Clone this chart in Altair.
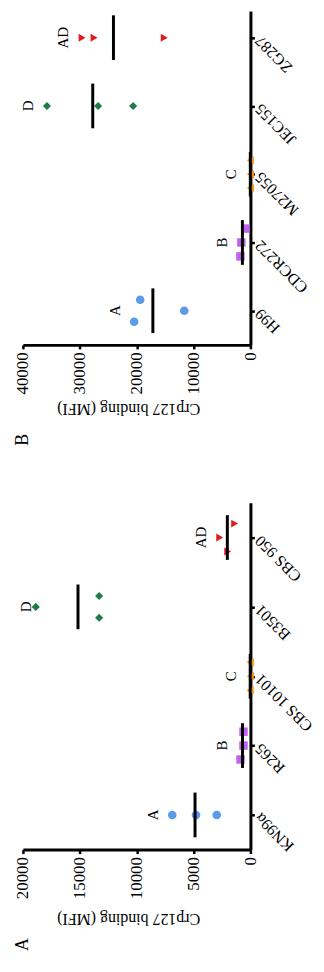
import json
import altair as alt
import pandas as pd

# ---------------- data ----------------
serotypes = ["A", "B", "C", "D", "AD"]

a_strains = ["KN99α", "R265", "CBS 10101", "B3501", "CBS 950"]
a_kn99 = [6870, 4780, 2960]
a_r265 = [610, 610, 870]
a_cbs10101 = [20, 10, 30]
a_b3501 = [18870, 13300, 13300]
a_cbs950 = [1390, 2700, 2000]

b_strains = ["H99", "CDCR272", "M27055", "JEC155", "ZG287"]
b_h99 = [19380, 11630, 20440]
b_cdcr272 = [880, 1590, 1760]
b_m27055 = [30, 10, 20]
b_jec155 = [35770, 26780, 20620]
b_zg287 = [29600, 27490, 15150]

a_ticks = [0, 5000, 10000, 15000, 20000]
b_ticks = [0, 10000, 20000, 30000, 40000]

value_title = "Crp127 binding (MFI)"

# ---------------- style ----------------
SERIF = "Liberation Serif"
colors = ["#5b9be9", "#c062ef", "#f28f1d", "#1f7b47", "#e11b1d"]
b_shapes = ["circle", "square", "triangle-left", "diamond", "triangle-right"]
a_shapes = ["circle", "circle", "triangle-left", "diamond", "triangle-right"]
b_sizes = [75, 64, 85, 50, 60]
a_sizes = [60, 30, 85, 45, 55]
W = 229


def spread(vals, px_per_unit, thr_px=10):
    """GraphPad-like scatter: overlapping points are spread across the band."""
    order = sorted(range(len(vals)), key=lambda i: vals[i])
    clusters, cur = [], [order[0]]
    for i in order[1:]:
        if (vals[i] - vals[cur[-1]]) * px_per_unit < thr_px:
            cur.append(i)
        else:
            clusters.append(cur)
            cur = [i]
    clusters.append(cur)
    out = [(0.0, 1)] * len(vals)
    for c in clusters:
        c = sorted(c)
        k = len(c)
        for j, i in enumerate(c):
            out[i] = ((k - 1) / 2 - j, k)
    return out


def panel(strains, groups, ticks, letter, height, dom, shapes, sizes, title_pad, letter_off):
    vmax = ticks[-1]
    px_per_unit = W / vmax
    step_px = height / (dom[1] - dom[0])
    rows = []
    for i, (s, vals) in enumerate(zip(strains, groups)):
        for v, (o, k) in zip(vals, spread(vals, px_per_unit)):
            gap = 22 if k == 2 else 14
            rows.append(dict(strain=s, ser=serotypes[i], idx=i, value=v,
                             jit=o * gap / step_px))
    df = pd.DataFrame(rows)

    xscale = alt.Scale(domain=[0, vmax], reverse=True, nice=False, zero=False)
    xaxis = alt.Axis(values=ticks, format="d", labelAngle=270, labelAlign="right",
                     labelBaseline="middle", labelFlush=False, labelOverlap=False,
                     labelFontSize=17,
                     grid=False, titleAngle=180, titleAlign="center",
                     titleBaseline="bottom", titleX=106, titlePadding=title_pad)

    def X(f):
        return alt.X(f, scale=xscale, axis=xaxis, title=value_title)

    yscale = alt.Scale(domain=dom, nice=False, zero=False)
    yaxis = alt.Axis(orient="right", values=[0, 1, 2, 3, 4],
                     labelExpr=json.dumps(strains, ensure_ascii=False) + "[datum.value]",
                     labelAngle=225, labelAlign="right", labelBaseline="middle",
                     labelOverlap=False, labelFlush=False, labelPadding=3,
                     labelFontSize=16, grid=False)

    def Y(f):
        return alt.Y(f, scale=yscale, axis=yaxis, title=None)

    base = alt.Chart(df)
    pts = base.transform_calculate(pos="datum.idx + datum.jit").mark_point(
        filled=True, opacity=1, strokeWidth=0
    ).encode(
        x=X("value:Q"), y=Y("pos:Q"),
        color=alt.Color("ser:N", scale=alt.Scale(domain=serotypes, range=colors), legend=None),
        shape=alt.Shape("ser:N", scale=alt.Scale(domain=serotypes, range=shapes), legend=None),
        size=alt.Size("ser:N", scale=alt.Scale(domain=serotypes, range=sizes), legend=None),
    )
    means = base.mark_tick(orient="vertical", size=45, thickness=3, color="black").encode(
        x=X("mean(value):Q"), y=Y("idx:Q")
    )
    off = 19 / px_per_unit
    clamp = 0.985 * vmax
    labs = base.transform_aggregate(
        vmax="max(value)", groupby=["idx", "ser"]
    ).transform_calculate(
        lab=f"min(datum.vmax + {off}, {clamp})"
    ).mark_text(
        angle=270, font=SERIF, fontSize=15, color="black", align="center", baseline="middle"
    ).encode(x=X("lab:Q"), y=Y("idx:Q"), text="ser:N")

    return alt.layer(pts, means, labs).properties(
        width=W, height=height,
        title=alt.TitleParams(letter, orient="bottom", anchor="start", angle=270,
                              align="center", baseline="middle", font=SERIF,
                              fontSize=18, fontWeight="normal", color="black",
                              offset=letter_off, frame="group"),
    )


pB = panel(b_strains, [b_h99, b_cdcr272, b_m27055, b_jec155, b_zg287], b_ticks, "B",
           336, [-0.5, 4.39], b_shapes, b_sizes, 7, 23)
pA = panel(a_strains, [a_kn99, a_r265, a_cbs10101, a_b3501, a_cbs950], a_ticks, "A",
           349, [-0.5, 4.5], a_shapes, a_sizes, 12, 18)

chart = alt.vconcat(pB, pA, spacing=57).properties(
    padding={"left": 5, "top": 0, "right": 0, "bottom": 0}
).configure_view(stroke=None).configure_axis(
    domainColor="black", domainWidth=3, tickColor="black", tickWidth=2.5, tickSize=4,
    labelPadding=3, labelColor="black", labelFont=SERIF, labelFontSize=16,
    titleFont=SERIF, titleFontSize=16, titleFontWeight="normal", titleColor="black",
)

chart.save("out.html", embed_options={"renderer": "svg", "actions": False})
